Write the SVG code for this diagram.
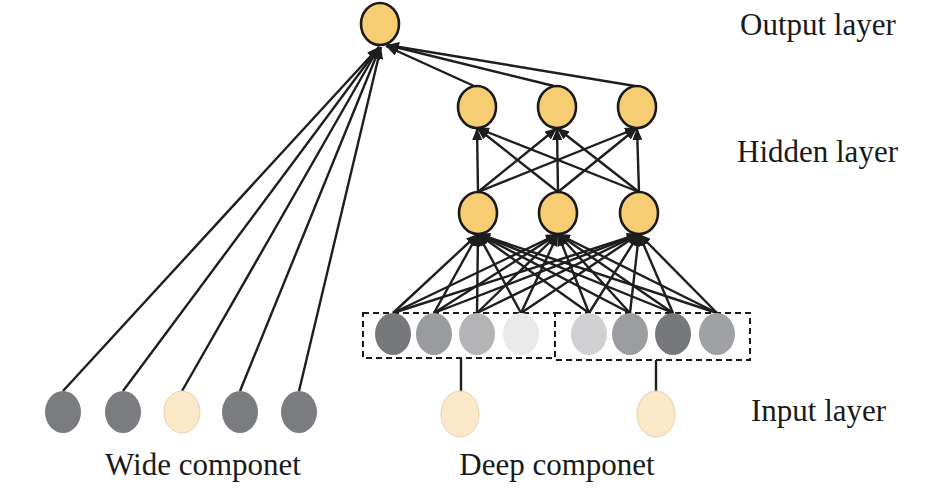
<svg xmlns="http://www.w3.org/2000/svg" width="945" height="489" viewBox="0 0 945 489">
<defs>
<marker id="ah" markerUnits="userSpaceOnUse" markerWidth="12" markerHeight="10" refX="12" refY="5" orient="auto">
<path d="M0,0 L12,5 L0,10 z" fill="#1e1e1e"/>
</marker>
<style>
.conn line{stroke:#1e1e1e;stroke-width:2.4;fill:none}
.conn line.arr{marker-end:url(#ah)}
.neuron{fill:#f6cd73;stroke:#1a1a1a;stroke-width:2.6}
.cat{fill:#fbe8c8;stroke:#e4d2b0;stroke-width:1}
.box{fill:none;stroke:#1a1a1a;stroke-width:2;stroke-dasharray:6 4}
.lbl{font-family:"Liberation Serif","Times New Roman",serif;font-size:31px;fill:#1a1a1a}
</style>
</defs>
<rect width="945" height="489" fill="#fff"/>

<g id="connectors" class="conn">
<!-- wide to output -->
<line class="arr" x1="63" y1="391" x2="379" y2="47"/>
<line class="arr" x1="123" y1="391" x2="379" y2="47"/>
<line class="arr" x1="182" y1="391" x2="379" y2="47"/>
<line class="arr" x1="240" y1="391" x2="380" y2="47"/>
<line class="arr" x1="299" y1="391" x2="381" y2="47"/>
<!-- hidden2 to output -->
<line class="arr" x1="474" y1="86" x2="386" y2="46"/>
<line class="arr" x1="554" y1="86" x2="387" y2="45"/>
<line class="arr" x1="635" y1="86" x2="387" y2="45"/>
<!-- hidden1 to hidden2 -->
<line class="arr" x1="478" y1="192" x2="477" y2="128"/>
<line class="arr" x1="478" y1="192" x2="557" y2="128"/>
<line class="arr" x1="478" y1="192" x2="637" y2="128"/>
<line class="arr" x1="558" y1="192" x2="477" y2="128"/>
<line class="arr" x1="558" y1="192" x2="557" y2="128"/>
<line class="arr" x1="558" y1="192" x2="637" y2="128"/>
<line class="arr" x1="639" y1="192" x2="477" y2="128"/>
<line class="arr" x1="639" y1="192" x2="557" y2="128"/>
<line class="arr" x1="639" y1="192" x2="637" y2="128"/>
<!-- input to hidden1 -->
<line class="arr" x1="393" y1="313" x2="478" y2="234"/>
<line class="arr" x1="393" y1="313" x2="558" y2="234"/>
<line class="arr" x1="393" y1="313" x2="639" y2="234"/>
<line class="arr" x1="434" y1="313" x2="478" y2="234"/>
<line class="arr" x1="434" y1="313" x2="558" y2="234"/>
<line class="arr" x1="434" y1="313" x2="639" y2="234"/>
<line class="arr" x1="477" y1="313" x2="478" y2="234"/>
<line class="arr" x1="477" y1="313" x2="558" y2="234"/>
<line class="arr" x1="477" y1="313" x2="639" y2="234"/>
<line class="arr" x1="521" y1="313" x2="478" y2="234"/>
<line class="arr" x1="521" y1="313" x2="558" y2="234"/>
<line class="arr" x1="521" y1="313" x2="639" y2="234"/>
<line class="arr" x1="589" y1="313" x2="478" y2="234"/>
<line class="arr" x1="589" y1="313" x2="558" y2="234"/>
<line class="arr" x1="589" y1="313" x2="639" y2="234"/>
<line class="arr" x1="630" y1="313" x2="478" y2="234"/>
<line class="arr" x1="630" y1="313" x2="558" y2="234"/>
<line class="arr" x1="630" y1="313" x2="639" y2="234"/>
<line class="arr" x1="673" y1="313" x2="478" y2="234"/>
<line class="arr" x1="673" y1="313" x2="558" y2="234"/>
<line class="arr" x1="673" y1="313" x2="639" y2="234"/>
<line class="arr" x1="717" y1="313" x2="478" y2="234"/>
<line class="arr" x1="717" y1="313" x2="558" y2="234"/>
<line class="arr" x1="717" y1="313" x2="639" y2="234"/>
<!-- deep category to embedding -->
<line x1="461" y1="359" x2="461" y2="392"/>
<line x1="656" y1="360" x2="656" y2="392"/>
</g>

<g id="output"><ellipse class="neuron" cx="380" cy="24" rx="19" ry="21"/></g>
<g id="h2-1"><ellipse class="neuron" cx="477" cy="107" rx="19" ry="21"/></g>
<g id="h2-2"><ellipse class="neuron" cx="557" cy="107" rx="19" ry="21"/></g>
<g id="h2-3"><ellipse class="neuron" cx="637" cy="107" rx="19" ry="21"/></g>
<g id="h1-1"><ellipse class="neuron" cx="478" cy="213" rx="19" ry="21"/></g>
<g id="h1-2"><ellipse class="neuron" cx="558" cy="213" rx="19" ry="21"/></g>
<g id="h1-3"><ellipse class="neuron" cx="639" cy="213" rx="19" ry="21"/></g>

<g id="embed-1">
<rect class="box" x="363" y="313" width="192" height="45"/>
<ellipse cx="393" cy="334" rx="18" ry="21" fill="#77787b"/>
<ellipse cx="434" cy="334" rx="18" ry="21" fill="#9a9b9e"/>
<ellipse cx="477" cy="334" rx="18" ry="21" fill="#b4b4b6"/>
<ellipse cx="521" cy="334" rx="18" ry="21" fill="#e9e9ea"/>
</g>
<g id="embed-2">
<rect class="box" x="555" y="313" width="195" height="47"/>
<ellipse cx="589" cy="334" rx="18" ry="21" fill="#d0d0d2"/>
<ellipse cx="630" cy="334" rx="18" ry="21" fill="#9c9da0"/>
<ellipse cx="673" cy="334" rx="18" ry="21" fill="#77787c"/>
<ellipse cx="717" cy="334" rx="18" ry="21" fill="#a0a1a4"/>
</g>

<g id="wide-1"><ellipse cx="63" cy="412" rx="18" ry="21" fill="#7b7c80"/></g>
<g id="wide-2"><ellipse cx="123" cy="412" rx="18" ry="21" fill="#7b7c80"/></g>
<g id="wide-3"><ellipse class="cat" cx="182" cy="412" rx="18" ry="21"/></g>
<g id="wide-4"><ellipse cx="240" cy="412" rx="18" ry="21" fill="#7b7c80"/></g>
<g id="wide-5"><ellipse cx="299" cy="412" rx="18" ry="21" fill="#7b7c80"/></g>

<g id="deep-1"><ellipse class="cat" cx="460" cy="414" rx="19" ry="23"/></g>
<g id="deep-2"><ellipse class="cat" cx="656" cy="414" rx="19" ry="23"/></g>

<g id="labels">
<text class="lbl" x="740" y="35">Output layer</text>
<text class="lbl" x="737" y="162">Hidden layer</text>
<text class="lbl" x="751" y="421">Input layer</text>
<text class="lbl" x="203" y="475" text-anchor="middle">Wide componet</text>
<text class="lbl" x="557" y="475" text-anchor="middle">Deep componet</text>
</g>
</svg>
